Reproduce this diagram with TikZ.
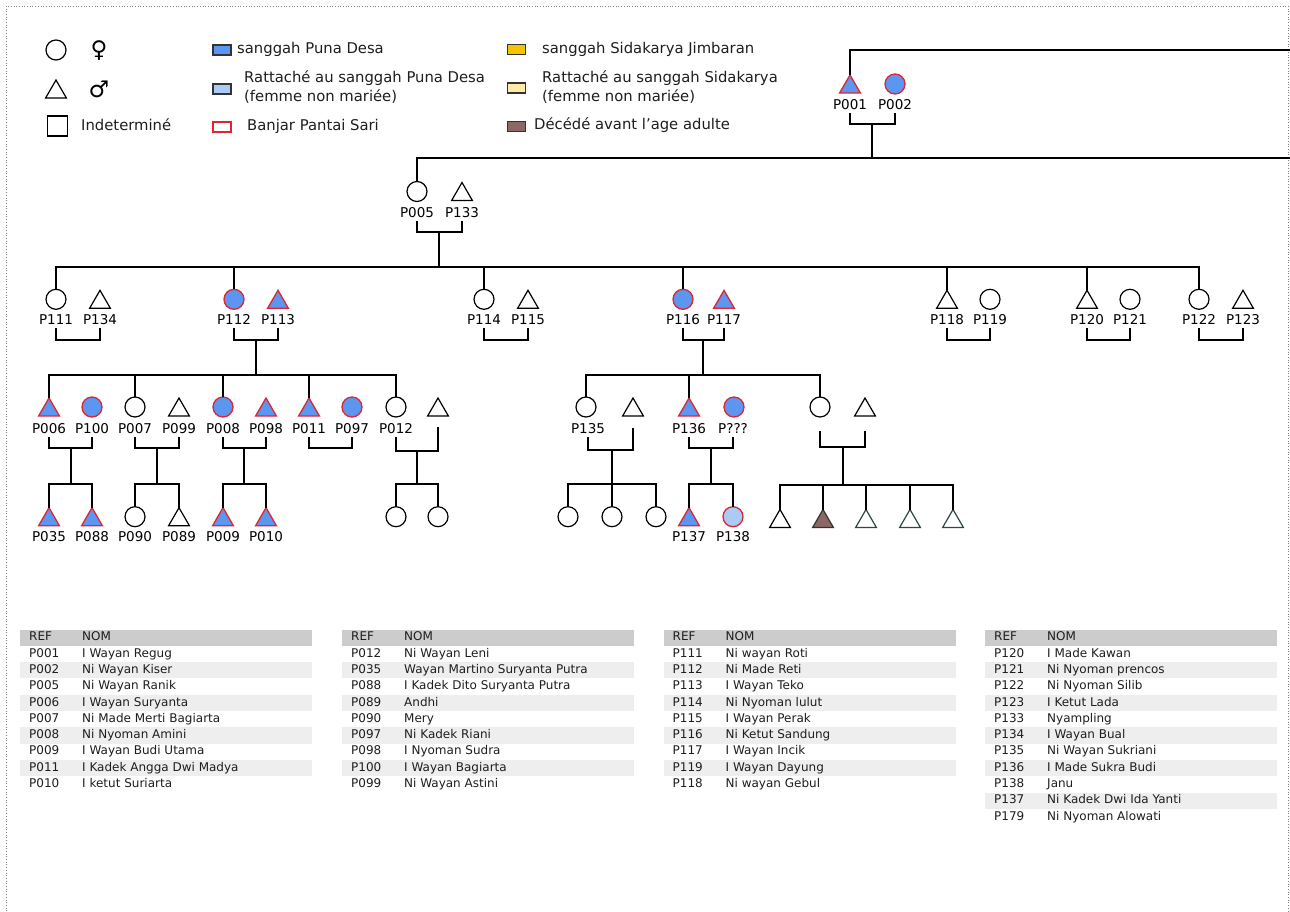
\documentclass[tikz,border=0pt]{standalone}
\usepackage{fontspec}
\setmainfont{DejaVu Sans}
\usetikzlibrary{shapes.geometric,calc}
\definecolor{pdblue}{RGB}{92,150,240}
\definecolor{bred}{RGB}{222,38,48}
\definecolor{lblue}{RGB}{172,202,246}
\definecolor{syel}{RGB}{245,196,0}
\definecolor{lyel}{RGB}{253,234,165}
\definecolor{dbrown}{RGB}{140,104,100}
\definecolor{hdrgray}{RGB}{204,204,204}
\definecolor{altgray}{RGB}{238,238,238}
\definecolor{txtgray}{RGB}{30,30,30}
\definecolor{slate}{RGB}{46,72,70}
\newcommand\labfont{\fontsize{13.5}{15}\selectfont}
\newcommand\legfont{\fontsize{14.8}{17}\selectfont}
\newcommand\tabfont{\fontsize{12}{14}\selectfont}
\newcommand\reftable[3]{%
  \fill[hdrgray] (#1,629.5) rectangle ++(292,16);
  \node[tab] (#2h1) at (#1+9,637.5) {REF};
  \node[tab] (#2h2) at (#1+62,637.5) {NOM};
  \foreach \refid/\nom [count=\i] in {#3} {
    \pgfmathsetmacro\yy{654+16.3*(\i-1)}
    \ifodd\i\relax\else\fill[altgray] (#1,\yy-8.15) rectangle ++(292,16.3);\fi
    \node[tab] (#2r\i) at (#1+9,\yy) {\refid};
    \node[tab] (#2n\i) at (#1+62,\yy) {\nom};
  }}
\begin{document}
\begin{tikzpicture}[x=1pt,y=-1pt,
  fem/.style={circle, draw, line width=1.2pt, minimum size=20pt, inner sep=0pt, outer sep=0pt},
  mal/.style={regular polygon, regular polygon sides=3, draw, line width=1.2pt, minimum size=24pt, inner sep=0pt, outer sep=0pt},
  pd/.style={fill=pdblue, draw=bred, line width=1.3pt},
  lab/.style={font=\labfont, inner sep=3.5pt, text height=9.5pt, text depth=0pt},
  link/.style={line width=2pt},
  leg/.style={font=\legfont, text=txtgray, anchor=west, inner sep=0pt, text height=10.5pt, text depth=3pt},
  legbox/.style={draw=black!80, line width=1.3pt, minimum width=18pt, minimum height=10pt, inner sep=0pt},
  tab/.style={font=\tabfont, text=txtgray, anchor=west, inner sep=0pt, text height=8.7pt, text depth=2.5pt},
  sym/.style={font=\fontsize{23}{23}\selectfont, inner sep=0pt}]
\useasboundingbox (0,0) rectangle (1290,911);
\fill[white] (0,0) rectangle (1290,911);
\draw[dotted, gray, line width=0.7pt] (6,911) -- (6,6) -- (1288,6) -- (1288,911);

% ---------- legend ----------
\node[fem] (Lf) at (56,50) {};
\node[sym] (Lfs) at (99,51) {♀};
\node[mal] (Lm) at (56,92) {};
\node[sym] (Lms) at (99,89) {♂};
\node[draw, line width=1.2pt, minimum size=20pt, inner sep=0pt] (Lq) at (57.5,126) {};
\node[leg] (Lqt) at (81,127) {Indeterminé};
\node[legbox, fill=pdblue] (L1) at (222,50) {};
\node[leg] (L1t) at (237,50) {sanggah Puna Desa};
\node[legbox, fill=lblue] (L2) at (222,89) {};
\node[leg] (L2t) at (244,79) {Rattaché au sanggah Puna Desa};
\node[leg] (L2u) at (244,98) {(femme non mariée)};
\node[legbox, draw=bred, fill=white] (L3) at (222,127) {};
\node[leg] (L3t) at (247,127) {Banjar Pantai Sari};
\node[legbox, fill=syel] (L4) at (516.5,49.5) {};
\node[leg] (L4t) at (542,50) {sanggah Sidakarya Jimbaran};
\node[legbox, fill=lyel] (L5) at (516.5,88) {};
\node[leg] (L5t) at (542,79) {Rattaché au sanggah Sidakarya};
\node[leg] (L5u) at (542,98) {(femme non mariée)};
\node[legbox, fill=dbrown] (L6) at (516.5,126.5) {};
\node[leg] (L6t) at (534,126) {Décédé avant l'age adulte};

% ---------- generation 0 ----------
\node[mal,pd] (P001) at (850,87) {};
\node[fem,pd] (P002) at (895,84) {};
\node[lab] (lP001) at (850,104.5) {P001};
\node[lab] (lP002) at (895,104.5) {P002};
\coordinate (c001) at (872,124);
\coordinate (b001) at (872,158);
\coordinate (E0) at (1292,50);
\coordinate (E1) at (1292,158);

% ---------- generation 1 ----------
\node[fem] (P005) at (417,191.5) {};
\node[mal] (P133) at (462,194.5) {};
\node[lab] (lP005) at (417,212.3) {P005};
\node[lab] (lP133) at (462,212.3) {P133};
\coordinate (c005) at (439,232);
\coordinate (b005) at (439,267);

% ---------- generation 2 ----------
\node[fem] (P111) at (56,299.3) {};
\node[mal] (P134) at (100,302.3) {};
\node[fem,pd] (P112) at (234,299.3) {};
\node[mal,pd] (P113) at (278,302.3) {};
\node[fem] (P114) at (484,299.3) {};
\node[mal] (P115) at (528,302.3) {};
\node[fem,pd] (P116) at (683,299.3) {};
\node[mal,pd] (P117) at (724,302.3) {};
\node[mal] (P118) at (947,302.3) {};
\node[fem] (P119) at (990,299.3) {};
\node[mal] (P120) at (1087,302.3) {};
\node[fem] (P121) at (1130,299.3) {};
\node[fem] (P122) at (1199,299.3) {};
\node[mal] (P123) at (1243,302.3) {};
\foreach \p/\x in {P111/56,P134/100,P112/234,P113/278,P114/484,P115/528,P116/683,P117/724,P118/947,P119/990,P120/1087,P121/1130,P122/1199,P123/1243}
  \node[lab] (l\p) at (\x,320) {\p};
\coordinate (c111) at (78,340);
\coordinate (c112) at (256,340);
\coordinate (b112) at (256,375);
\coordinate (c114) at (506,340);
\coordinate (c116) at (703,340);
\coordinate (b116) at (703,375);
\coordinate (c118) at (968,340);
\coordinate (c120) at (1108,340);
\coordinate (c122) at (1221,340);

% ---------- generation 3 ----------
\node[mal,pd] (P006) at (49,410) {};
\node[fem,pd] (P100) at (92,407) {};
\node[fem] (P007) at (135,407) {};
\node[mal] (P099) at (179,410) {};
\node[fem,pd] (P008) at (223,407) {};
\node[mal,pd] (P098) at (266,410) {};
\node[mal,pd] (P011) at (309,410) {};
\node[fem,pd] (P097) at (352,407) {};
\node[fem] (P012) at (396,407) {};
\node[mal] (U1) at (438,410) {};
\foreach \p/\x in {P006/49,P100/92,P007/135,P099/179,P008/223,P098/266,P011/309,P097/352,P012/396}
  \node[lab] (l\p) at (\x,429) {\p};
\node[fem] (P135) at (586,407) {};
\node[mal] (U2) at (633,410) {};
\node[mal,pd] (P136) at (689,410) {};
\node[fem,pd] (Pq) at (734,407) {};
\node[fem] (U3) at (820,407) {};
\node[mal] (U4) at (865,410) {};
\node[lab] (lP135) at (588,429) {P135};
\node[lab] (lP136) at (689,429) {P136};
\node[lab] (lPq) at (733,429) {P???};
\coordinate (uU1) at ($(U1.south)+(0,11)$);
\coordinate (uU2) at ($(U2.south)+(0,12)$);
\coordinate (uU3) at ($(U3.south)+(0,14)$);
\coordinate (uU4) at ($(U4.south)+(0,15)$);
\coordinate (c006) at (71,448);   \coordinate (b006) at (71,484);
\coordinate (c007) at (157,448);  \coordinate (b007) at (157,484);
\coordinate (c008) at (244,448);  \coordinate (b008) at (244,484);
\coordinate (c011) at (330,448);
\coordinate (c012) at (417,451);  \coordinate (b012) at (417,484);
\coordinate (c135) at (612,450);  \coordinate (b135) at (612,484);
\coordinate (c136) at (711,448);  \coordinate (b136) at (711,484);
\coordinate (cU3) at (843,447);   \coordinate (bU3) at (843,485);

% ---------- generation 4 ----------
\node[mal,pd] (P035) at (49,519.7) {};
\node[mal,pd] (P088) at (92,519.7) {};
\node[fem] (P090) at (135,516.7) {};
\node[mal] (P089) at (179,519.7) {};
\node[mal,pd] (P009) at (223,519.7) {};
\node[mal,pd] (P010) at (266,519.7) {};
\node[fem] (K1) at (396,516.7) {};
\node[fem] (K2) at (438,516.7) {};
\node[fem] (K3) at (568,516.7) {};
\node[fem] (K4) at (612,516.7) {};
\node[fem] (K5) at (656,516.7) {};
\node[mal,pd] (P137) at (689,519.7) {};
\node[fem,fill=lblue,draw=bred,line width=1.3pt] (P138) at (733,516.7) {};
\node[mal] (K6) at (780,521.5) {};
\node[mal,fill=dbrown,draw=black!80] (K7) at (823,521.5) {};
\node[mal,draw=slate] (K8) at (866,521.5) {};
\node[mal,draw=slate] (K9) at (910,521.5) {};
\node[mal,draw=slate] (K10) at (953,521.5) {};
\foreach \p/\x in {P035/49,P088/92,P090/135,P089/179,P009/223,P010/266,P137/689,P138/733}
  \node[lab] (l\p) at (\x,536.7) {\p};

% ---------- connectors ----------
\draw[link] (P001.north) |- (E0);
\draw[link] (lP001.south) |- (c001) -| (lP002.south);
\draw[link] (c001) -- (b001);
\draw[link] (P005.north) |- (E1);

\draw[link] (lP005.south) |- (c005) -| (lP133.south);
\draw[link] (c005) -- (b005);
\draw[link] (P111.north) |- (b005) -| (P122.north);
\foreach \k in {P112,P114,P116,P118,P120}
  \draw[link] (\k.north) -- (\k.north |- b005);

\draw[link] (lP111.south) |- (c111) -| (lP134.south);
\draw[link] (lP112.south) |- (c112) -| (lP113.south);
\draw[link] (lP114.south) |- (c114) -| (lP115.south);
\draw[link] (lP116.south) |- (c116) -| (lP117.south);
\draw[link] (lP118.south) |- (c118) -| (lP119.south);
\draw[link] (lP120.south) |- (c120) -| (lP121.south);
\draw[link] (lP122.south) |- (c122) -| (lP123.south);
\draw[link] (c112) -- (b112);
\draw[link] (c116) -- (b116);

\draw[link] (P006.north) |- (b112) -| (P012.north);
\foreach \k in {P007,P008,P011}
  \draw[link] (\k.north) -- (\k.north |- b112);
\draw[link] (P135.north) |- (b116) -| (U3.north);
\draw[link] (P136.north) -- (P136.north |- b116);

\draw[link] (lP006.south) |- (c006) -| (lP100.south);
\draw[link] (lP007.south) |- (c007) -| (lP099.south);
\draw[link] (lP008.south) |- (c008) -| (lP098.south);
\draw[link] (lP011.south) |- (c011) -| (lP097.south);
\draw[link] (lP012.south) |- (c012) -| (uU1);
\draw[link] (lP135.south) |- (c135) -| (uU2);
\draw[link] (lP136.south) |- (c136) -| (lPq.south);
\draw[link] (uU3) |- (cU3) -| (uU4);
\foreach \c in {006,007,008,012,135,136}
  \draw[link] (c\c) -- (b\c);
\draw[link] (cU3) -- (bU3);

\draw[link] (P035.north) |- (b006) -| (P088.north);
\draw[link] (P090.north) |- (b007) -| (P089.north);
\draw[link] (P009.north) |- (b008) -| (P010.north);
\draw[link] (K1.north) |- (b012) -| (K2.north);
\draw[link] (K3.north) |- (b135) -| (K5.north);
\draw[link] (K4.north) -- (K4.north |- b135);
\draw[link] (P137.north) |- (b136) -| (P138.north);
\draw[link] (K6.north) |- (bU3) -| (K10.north);
\foreach \k in {K7,K8,K9}
  \draw[link] (\k.north) -- (\k.north |- bU3);

% ---------- tables ----------
\reftable{20}{A}{P001/I Wayan Regug,P002/Ni Wayan Kiser,P005/Ni Wayan Ranik,P006/I Wayan Suryanta,P007/Ni Made Merti Bagiarta,P008/Ni Nyoman Amini,P009/I Wayan Budi Utama,P011/I Kadek Angga Dwi Madya,P010/I ketut Suriarta}
\reftable{342}{B}{P012/Ni Wayan Leni,P035/Wayan Martino Suryanta Putra,P088/I Kadek Dito Suryanta Putra,P089/Andhi,P090/Mery,P097/Ni Kadek Riani,P098/I Nyoman Sudra,P100/I Wayan Bagiarta,P099/Ni Wayan Astini}
\reftable{663.5}{C}{P111/Ni wayan Roti,P112/Ni Made Reti,P113/I Wayan Teko,P114/Ni Nyoman lulut,P115/I Wayan Perak,P116/Ni Ketut Sandung,P117/I Wayan Incik,P119/I Wayan Dayung,P118/Ni wayan Gebul}
\reftable{985}{D}{P120/I Made Kawan,P121/Ni Nyoman prencos,P122/Ni Nyoman Silib,P123/I Ketut Lada,P133/Nyampling,P134/I Wayan Bual,P135/Ni Wayan Sukriani,P136/I Made Sukra Budi,P138/Janu,P137/Ni Kadek Dwi Ida Yanti,P179/Ni Nyoman Alowati}
\end{tikzpicture}
\end{document}
